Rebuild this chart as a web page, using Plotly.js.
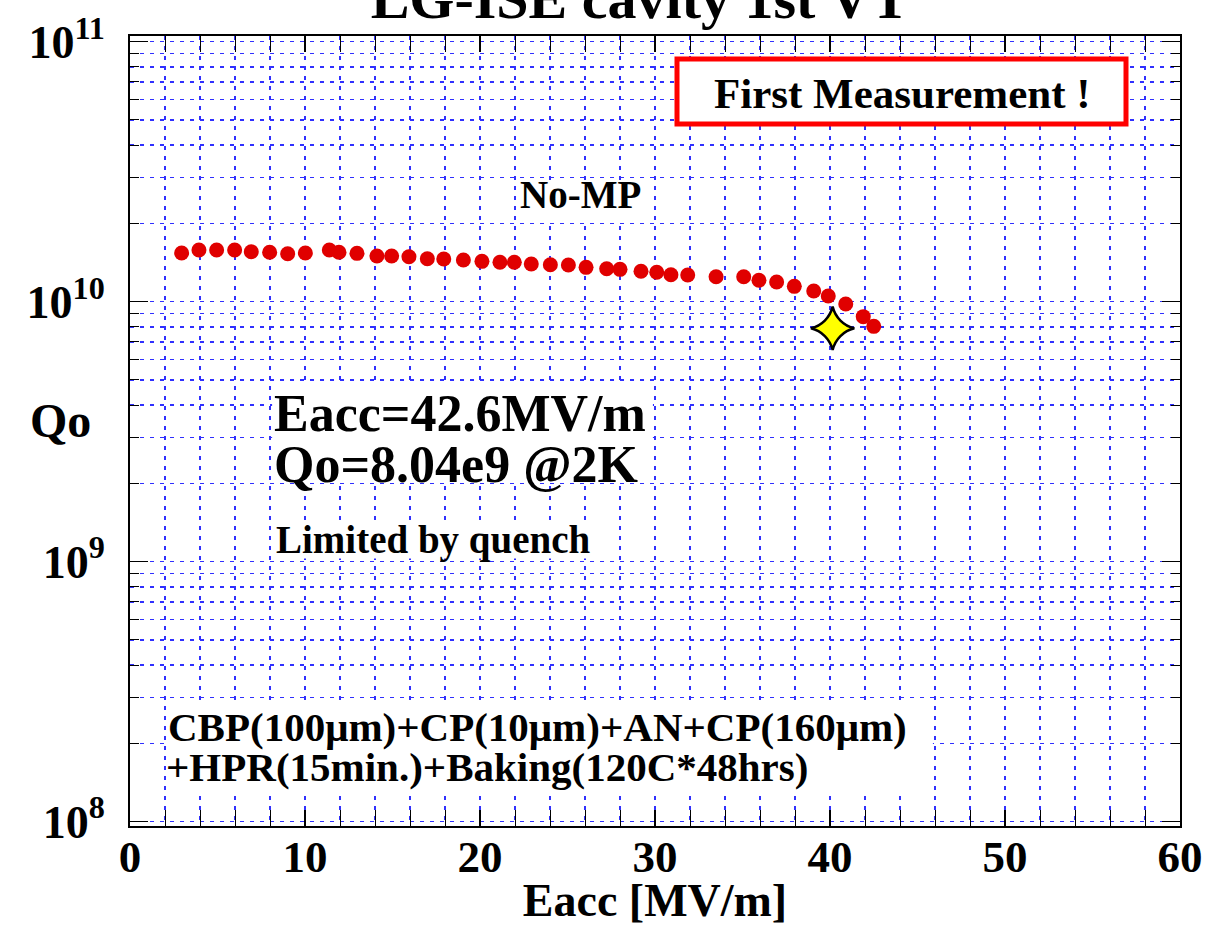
<!DOCTYPE html>
<html>
<head>
<meta charset="utf-8">
<script src="https://cdn.plot.ly/plotly-3.0.1.min.js"></script>
<style>html,body{margin:0;padding:0;background:#fff;}#chart{width:1215px;height:926px;}</style>
</head>
<body>
<div id="chart"></div>
<script>
// Measured data: accelerating gradient [MV/m] vs quality factor Qo
const eacc = [2.95,3.94,4.95,5.98,6.93,7.98,9.01,10.02,11.39,11.94,12.97,14.11,14.95,15.94,16.99,17.93,19.05,20.11,21.14,21.96,22.93,24.02,25.05,26.06,27.24,28.0,29.2,30.1,30.91,31.87,33.49,35.07,35.94,36.95,37.96,39.07,39.9,40.9,41.9,42.5];
const qo = [1.54e10,1.58e10,1.58e10,1.58e10,1.557e10,1.549e10,1.53e10,1.54e10,1.58e10,1.55e10,1.535e10,1.50e10,1.50e10,1.49e10,1.463e10,1.459e10,1.447e10,1.43e10,1.418e10,1.418e10,1.396e10,1.388e10,1.384e10,1.356e10,1.339e10,1.332e10,1.309e10,1.298e10,1.27e10,1.267e10,1.248e10,1.248e10,1.209e10,1.19e10,1.146e10,1.099e10,1.052e10,9.8e9,8.76e9,8.04e9];
// Quench point (star)
const quenchEacc = [40.15];
const quenchQo = [7.9e9];

// Y tick labels (decades)
const yDecades = [1e8, 1e9, 1e10, 1e11];
const yDecadeLabels = ["10<sup>8</sup>", "10<sup>9</sup>", "10<sup>10</sup>", "10<sup>11</sup>"];

const titleText = "LG-ISE cavity 1st VT";
const xTitle = "Eacc [MV/m]";
const yTitle = "Qo";
const noteNoMP = "No-MP";
const noteEacc = "Eacc=42.6MV/m";
const noteQo = "Qo=8.04e9 @2K";
const noteLimit = "Limited by quench";
const noteProc1 = "CBP(100\u03bcm)+CP(10\u03bcm)+AN+CP(160\u03bcm)";
const noteProc2 = "+HPR(15min.)+Baking(120C*48hrs)";
const noteFirst = "First Measurement !";

const FONT = "Liberation Serif, Times New Roman, serif";
const yLo = 7.9835, yHi = 11.022;
function py(v){ return (Math.log10(v) - yLo) / (yHi - yLo); }
function pp(pix){ return (826 - pix) / 790; }

// all log grid positions 1..9 x 10^d, labels only on decades
const yGridVals = [], yGridText = [];
for (let d = 8; d <= 11; d++) {
  for (let k = 1; k <= 9; k++) {
    if (d === 11 && k > 1) break;
    const v = k * Math.pow(10, d);
    yGridVals.push(v);
    const idx = yDecades.indexOf(v);
    yGridText.push(idx >= 0 ? yDecadeLabels[idx] : "");
  }
}

const gridCol = "#3030ff";
const gridW = 1.5;
const dash = "4px,6px";

const traces = [
  {x: eacc, y: qo, type: "scatter", mode: "markers",
   marker: {color: "#e00000", size: 15, line: {width: 0}}},
  {x: quenchEacc, y: quenchQo, type: "scatter", mode: "markers",
   marker: {symbol: "star-diamond", color: "#ffff00", size: 31, line: {color: "#000", width: 2.5}}}
];

const ins = 0.12, iy = 0.004;
function whiteBox(x0, x1, y0, y1){
  return {type: "rect", xref: "x", yref: "paper", x0: x0 + ins, x1: x1 - ins, y0: y0 + iy, y1: y1 - iy,
          fillcolor: "#fff", line: {width: 0}, layer: "above"};
}
const shapes = [
  whiteBox(22, 30, py(2e10), py(3e10)),
  whiteBox(8, 30, py(2e9), py(5e9)),
  whiteBox(8, 28, py(1e9), pp(520)),
  whiteBox(2, 46, pp(795), py(3e8)),
  {type: "rect", xref: "paper", yref: "paper", x0: (677-130)/1050, x1: (1126-130)/1050, y0: pp(124), y1: pp(59),
   fillcolor: "#fff", line: {color: "#ff0000", width: 5}, layer: "above"}
];

function ann(text, x, y, size, xanchor){
  return {text: text, xref: "paper", yref: "paper", x: x, y: y, xanchor: xanchor || "left", yanchor: "middle",
          showarrow: false, font: {family: FONT, size: size, color: "#000", weight: "bold"}};
}
const annotations = [
  ann(noteNoMP, (580-130)/1050, pp(195), 39, "center"),
  ann(noteEacc, (272-130)/1050, pp(413), 52),
  ann(noteQo, (272-130)/1050, pp(464), 52),
  ann(noteLimit, (274-130)/1050, pp(540), 39),
  ann(noteProc1, (166-130)/1050, pp(727), 41),
  ann(noteProc2, (164-130)/1050, pp(767), 41),
  ann(noteFirst, (902-130)/1050, pp(94), 43, "center"),
  ann(yTitle, (60-130)/1050, pp(420), 48, "center")
];

const layout = {
  width: 1215, height: 926,
  margin: {l: 130, r: 35, t: 36, b: 100},
  paper_bgcolor: "#fff", plot_bgcolor: "#fff",
  showlegend: false,
  font: {family: FONT, color: "#000"},
  title: {text: titleText, font: {family: FONT, size: 58, weight: "bold", color: "#000"},
          x: (640-130)/1050, xanchor: "center", xref: "paper", yref: "container", y: 1 - 18/926, yanchor: "bottom"},
  xaxis: {
    range: [0, 60], dtick: 10, tick0: 0,
    showline: true, linecolor: "#000", linewidth: 2, mirror: "allticks",
    ticks: "inside", ticklen: 16, tickwidth: 1.5, tickcolor: "#000",
    showgrid: true, gridcolor: gridCol, gridwidth: gridW, griddash: dash,
    zeroline: false,
    minor: {dtick: 2, ticks: "inside", ticklen: 8, tickwidth: 1, tickcolor: "#000",
            showgrid: true, gridcolor: gridCol, gridwidth: gridW, griddash: dash},
    tickfont: {family: FONT, size: 45, weight: "bold", color: "#000"},
    ticklabelstandoff: -10,
    title: {text: xTitle, font: {family: FONT, size: 46, weight: "bold", color: "#000"}, standoff: 0}
  },
  yaxis: {
    type: "log", range: [yLo, yHi], tickmode: "array", tickvals: yGridVals, ticktext: yGridText,
    showline: true, linecolor: "#000", linewidth: 2, mirror: "allticks",
    ticks: "inside", ticklen: 9, tickwidth: 1, tickcolor: "#000",
    showgrid: true, gridcolor: gridCol, gridwidth: gridW, griddash: dash,
    zeroline: false,
    tickfont: {family: FONT, size: 46, weight: "bold", color: "#000"},
    ticklabelstandoff: 14
  },
  yaxis2: {
    type: "log", range: [yLo, yHi], overlaying: "y", side: "left",
    tickmode: "array", tickvals: yDecades, ticktext: ["", "", "", ""],
    showline: false, mirror: "allticks", ticks: "inside", ticklen: 18, tickwidth: 1.5, tickcolor: "#000",
    showgrid: false, zeroline: false, showticklabels: false
  },
  shapes: shapes,
  annotations: annotations
};

// invisible trace to activate the decade-tick overlay axis
traces.push({x: [eacc[0]], y: [qo[0]], type: "scatter", mode: "markers", yaxis: "y2",
             marker: {opacity: 0}, hoverinfo: "skip"});

Plotly.newPlot("chart", traces, layout, {staticPlot: true, displayModeBar: false});
</script>
</body>
</html>
